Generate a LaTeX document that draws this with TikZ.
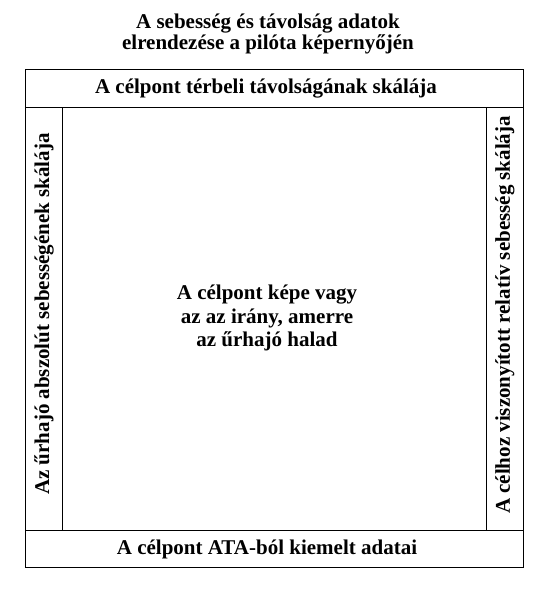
\documentclass[tikz,border=0pt]{standalone}
\usepackage{fontspec}
\setmainfont{Liberation Serif}
\tikzset{
  lbl/.style={font=\bfseries\fontsize{21}{23.5}\selectfont, align=center, inner sep=0pt},
  frame/.style={draw=black, line width=1pt}
}
\begin{document}
\begin{tikzpicture}[x=1pt,y=-1pt]
\useasboundingbox (0,0) rectangle (550,590);
% title
\node[lbl, font=\bfseries\fontsize{21}{21.5}\selectfont] (title) at (268,34) {A sebesség és távolság adatok\\elrendezése a pilóta képernyőjén};
% frame parts
\draw[frame] (25,69) rectangle (523,567);
\draw[frame] (25,107) -- (523,107);
\draw[frame] (25,530) -- (523,530);
\draw[frame] (62,107) -- (62,530);
\draw[frame] (486,107) -- (486,530);
% labels
\node[lbl] (top) at (266,89) {A célpont térbeli távolságának skálája};
\node[lbl] (bottom) at (267,549.5) {A célpont ATA-ból kiemelt adatai};
\node[lbl, rotate=90] (left) at (44,314) {Az űrhajó abszolút sebességének skálája};
\node[lbl, rotate=90] (right) at (505,315) {A célhoz viszonyított relatív sebesség skálája};
\node[lbl] (center) at (267,318) {A célpont képe vagy\\az az irány, amerre\\az űrhajó halad};
\end{tikzpicture}
\end{document}
